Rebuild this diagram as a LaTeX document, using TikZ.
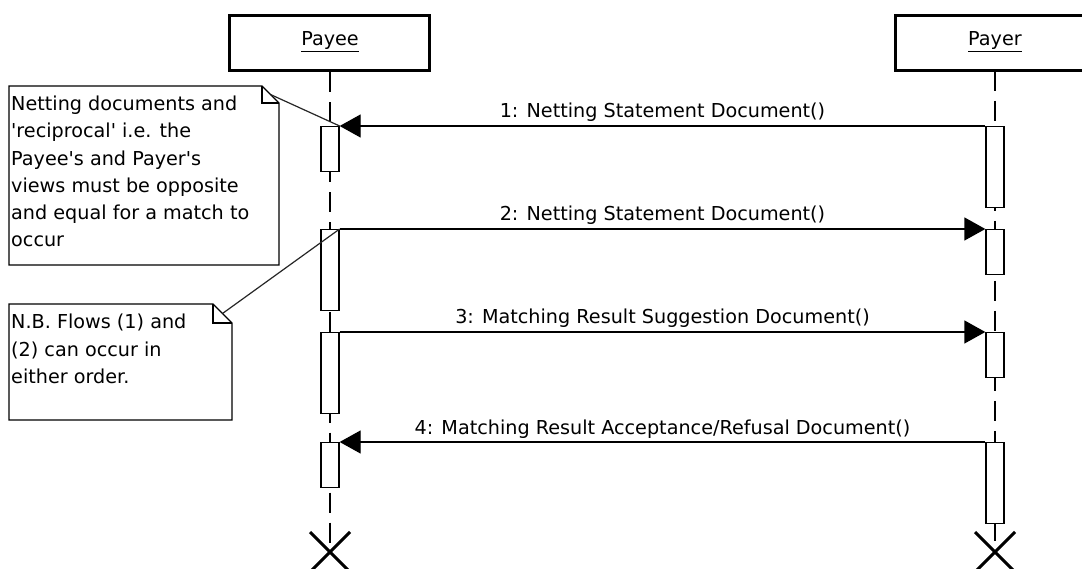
\documentclass[tikz,border=0pt]{standalone}
\usepackage{fontspec}
\setmainfont{DejaVu Sans}
\usetikzlibrary{arrows.meta}
\newcommand{\umlfs}{\fontsize{19.2}{27}\selectfont}
\tikzset{
  lifebox/.style={draw, line width=3pt, fill=white, minimum width=200pt, minimum height=55pt, inner sep=0pt, font=\umlfs},
  headline/.style={line width=3pt, line join=miter},
  actbox/.style={draw, fill=white, line width=1.3pt, minimum width=18pt, inner sep=0pt, anchor=north},
  msg/.style={line width=1.3pt, -{Triangle[length=21pt,width=23pt]}},
  lifeline/.style={line width=1.3pt, dash pattern=on 20pt off 10pt},
  lbl/.style={font=\umlfs, inner sep=0pt, anchor=base},
  notetxt/.style={font=\umlfs, inner sep=0pt, anchor=base west},
  noteline/.style={line width=1.3pt, line join=miter},
  notelink/.style={line width=1.2pt, draw=black!85},
  destroy/.style={line width=3pt}
}
\begin{document}
\begin{tikzpicture}[x=1pt, y=-1pt]
\useasboundingbox (0,0) rectangle (1082,569);
\fill[white] (0,0) rectangle (1082,569);

% lifeline heads (the Payer head runs off the right edge)
\node[lifebox] (payee) at (329.5,43.5) {};
\node[lbl] (payeet) at (330,46) {\underline{Payee}};
\coordinate (payerNE) at (1088,16);
\coordinate (payerSE) at (1088,71);
\draw[headline] (payerNE) -| (895,71) -- (payerSE);
\node[lbl] (payert) at (995,46) {\underline{Payer}};

% end points
\coordinate (pe) at (330,552);
\coordinate (re) at (995,552);

% lifelines
\draw[lifeline] (pe |- payee.south) -- (pe);
\draw[lifeline] (995,71) coordinate (payertop) -- (re);

% destroy marks
\draw[destroy] ([shift={(-20,-20)}]pe) -- ([shift={(20,20)}]pe);
\draw[destroy] ([shift={(20,-20)}]pe) -- ([shift={(-20,20)}]pe);
\draw[destroy] ([shift={(-20,-20)}]re) -- ([shift={(20,20)}]re);
\draw[destroy] ([shift={(20,-20)}]re) -- ([shift={(-20,20)}]re);

% activation boxes - Payee
\node[actbox, minimum height=45pt] (a1) at (330,126) {};
\node[actbox, minimum height=81pt] (a2) at (330,229) {};
\node[actbox, minimum height=81pt] (a3) at (330,332) {};
\node[actbox, minimum height=45pt] (a4) at (330,442) {};
% activation boxes - Payer
\node[actbox, minimum height=81pt] (b1) at (995,126) {};
\node[actbox, minimum height=45pt] (b2) at (995,229) {};
\node[actbox, minimum height=45pt] (b3) at (995,332) {};
\node[actbox, minimum height=81pt] (b4) at (995,442) {};

% messages
\draw[msg] (b1.north west) -- (a1.north east)
  node[lbl, midway, yshift=8pt] (m1) {1: Netting Statement Document()};
\draw[msg] (a2.north east) -- (b2.north west)
  node[lbl, midway, yshift=8pt] (m2) {2: Netting Statement Document()};
\draw[msg] (a3.north east) -- (b3.north west)
  node[lbl, midway, yshift=8pt] (m3) {3: Matching Result Suggestion Document()};
\draw[msg] (b4.north west) -- (a4.north east)
  node[lbl, midway, yshift=8pt] (m4) {4: Matching Result Acceptance/Refusal Document()};

% note 1
\draw[noteline, fill=white] (9,86) -- (262,86) -- (279,103) -- (279,265) -- (9,265) -- cycle;
\draw[noteline] (262,86) -- (262,103) -- (279,103);
\coordinate (n1f) at (270.5,94.5);
\node[notetxt] (n1a) at (11,110.7) {Netting documents and};
\node[notetxt] (n1b) at (11,137.9) {\textquotesingle reciprocal\textquotesingle\ i.e. the};
\node[notetxt] (n1c) at (11,165.1) {Payee\textquotesingle s and Payer\textquotesingle s};
\node[notetxt] (n1d) at (11,192.3) {views must be opposite};
\node[notetxt] (n1e) at (11,219.5) {and equal for a match to};
\node[notetxt] (n1f2) at (11,246.7) {occur};
\draw[notelink] (n1f) -- (a1.north east);

% note 2
\draw[noteline, fill=white] (9,304) -- (213,304) -- (232,323) -- (232,420) -- (9,420) -- cycle;
\draw[noteline] (213,304) -- (213,323) -- (232,323);
\coordinate (n2f) at (222.5,313.5);
\node[notetxt] (n2a) at (11,329) {N.B. Flows (1) and};
\node[notetxt] (n2b) at (11,356) {(2) can occur in};
\node[notetxt] (n2c) at (11,383) {either order.};
\draw[notelink] (n2f) -- (a2.north east);
\end{tikzpicture}
\end{document}
